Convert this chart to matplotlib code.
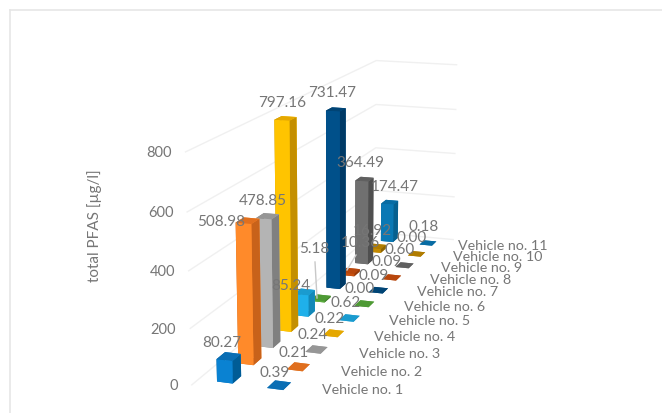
import matplotlib
matplotlib.use('Agg')
import matplotlib.pyplot as plt
from matplotlib.lines import Line2D

vehicles = ['Vehicle no. %d' % i for i in range(1, 12)]
front_row = [80.27, 508.98, 478.85, 797.16, 85.24, 5.18, 731.47, 10.36, 364.49, 16.92, 174.47]
back_row = [0.39, 0.21, 0.24, 0.22, 0.62, 0.00, 0.09, 0.09, 0.60, 0.00, 0.18]
z_ticks = [0, 200, 400, 600, 800]
y_title = 'total PFAS [µg/l]'

# per vehicle: front face, side face, top face
front_col = ['#0a82d2', '#ff8a2a', '#b4b4b4', '#ffc400', '#1fb0ea', '#5cae3f',
             '#00508a', '#c8500f', '#707070', '#c48a00', '#0a78b4']
side_col = ['#005c96', '#c8621a', '#808080', '#c48f00', '#1388b8', '#43802e',
            '#003a66', '#933a0a', '#4f4f4f', '#8f6500', '#07608f']
top_col = ['#0a6eb4', '#e06f1e', '#969696', '#e5a800', '#1a9bcf', '#4e9a35',
           '#004475', '#b8470d', '#606060', '#b07c00', '#086ca3']

W, H = 662, 413
TXT = '#767676'
plt.rcParams['font.family'] = ['Lato', 'DejaVu Sans']

fig = plt.figure(figsize=(W / 100, H / 100), dpi=100, facecolor='white')
S, TX, TY = 2986.54, 342.09, 209.82
side = 0.185 * S
ax = fig.add_axes([(TX - 0.095 * S) / W, (TY - 0.095 * S) / H, side / W, side / H],
                  projection='3d', computed_zorder=False)
ax.set_xlim(0, 1); ax.set_ylim(0, 1); ax.set_zlim(0, 800)
ax.view_init(elev=14.345, azim=-71.047)
ax.set_proj_type('persp', focal_length=0.4916)
ax.set_box_aspect((1, 5.4543, 2.1544))
ax.set_axis_off()
ax.patch.set_alpha(0)

for z in z_ticks:
    ax.plot([0, 0, 1], [0, 1, 1], [z, z, z], color='#f0f0f0', lw=1, zorder=1, clip_on=False)

bar_w, bar_d = 0.155, 0.036
n = len(vehicles)
zo = 2
for i in range(n - 1, -1, -1):
    yc = (i + 0.5) / n
    for xc, v in ((0.26, front_row[i]), (0.75, back_row[i])):
        # face order of bar3d: bottom, top, front, back, left, right
        cols = [top_col[i], top_col[i], front_col[i], front_col[i], side_col[i], side_col[i]]
        ax.bar3d(xc - bar_w / 2, yc - bar_d / 2, 0, bar_w, bar_d, v,
                 color=cols, shade=False, zorder=zo, linewidth=0)
        zo += 1

def put(text, px, py, **kw):
    kw.setdefault('ha', 'center')
    kw.setdefault('va', 'center')
    kw.setdefault('color', TXT)
    fig.text(px / W, 1 - py / H, text, zorder=20, **kw)

# layout of the value labels (pixel centres)
front_lab = [(222, 343), (221, 222), (263, 201), (282, 103), (291, 286), (314, 249),
             (332, 93), (360, 243), (360, 163), (372, 231), (395, 187)]
back_lab = [(275, 373), (294, 353), (313, 335), (330, 319), (346, 303), (360, 289),
            (374, 276), (387, 262), (400, 250), (412, 238), (424, 227)]
cat_lab = [(363, 390), (382, 372), (400, 354), (415, 337), (430, 321), (445, 307),
           (458, 292), (471, 280), (482, 268), (498, 257), (503, 246)]
tick_lab = [(178, 386), (176, 330), (175, 272), (174, 213), (172, 153)]

for v, (px, py) in zip(front_row, front_lab):
    put('%.2f' % v, px, py, fontsize=11)
for v, (px, py) in zip(back_row, back_lab):
    put('%.2f' % v, px, py, fontsize=11)
for name, (px, py) in zip(vehicles, cat_lab):
    put(name, px, py, fontsize=10.3)
for z, (px, py) in zip(z_ticks, tick_lab):
    put(str(z), px, py, fontsize=10.5, ha='right')
put(y_title, 95, 226, fontsize=11, rotation=90)

def seg(x0, y0, x1, y1, col, lw=1.0):
    fig.add_artist(Line2D([x0 / W, x1 / W], [1 - y0 / H, 1 - y1 / H], color=col, lw=lw,
                          transform=fig.transFigure, zorder=15))

# leader lines of two data labels
seg(315, 262, 317, 298, '#c8c8c8')
seg(356, 255, 347, 270, '#cfcfcf')
# chart frame
seg(10, 10, W, 10, '#e6e6e6', 1.2)
seg(10, 10, 10, H, '#e6e6e6', 1.2)

fig.savefig('out.png', dpi=100)
